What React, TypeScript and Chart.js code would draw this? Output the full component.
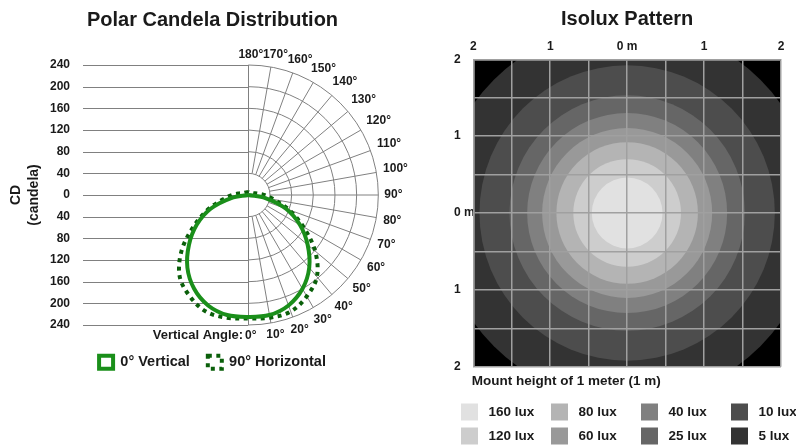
import React, { useEffect, useRef } from 'react';
import { Chart, registerables } from 'chart.js';

Chart.register(...registerables);

const FONT = "'Liberation Sans', Arial, Helvetica, sans-serif";
const TEXT = '#1a1a1a';
const GRID = '#808080';

// ---------- Polar candela distribution ----------
const ANGLES = [0, 10, 20, 30, 40, 50, 60, 70, 80, 90, 100, 110, 120, 130, 140, 150, 160, 170, 180];
const VERTICAL_0_CD = [225, 225, 217, 200, 175, 143, 110, 74, 32, 0, 0, 0, 0, 0, 0, 0, 0, 0, 0];
const HORIZONTAL_90_CD = [228, 230, 229, 216, 197, 161, 117, 80, 48, 30, 17, 10, 8, 7, 6, 6, 5, 5, 5];
const CD_TICKS = [40, 80, 120, 160, 200, 240];
const CD_MAX = 240;
const CD_STEP = 40;
const SERIES_LABELS = ['0° Vertical', '90° Horizontal'];

// ---------- Isolux pattern ----------
const LUX_LEVELS = ['160 lux', '120 lux', '80 lux', '60 lux', '40 lux', '25 lux', '10 lux', '5 lux'];
const LUX_RADII_M = [0.46, 0.7, 0.92, 1.105, 1.3, 1.53, 1.92, 2.45];
const LUX_COLORS = ['#e1e1e1', '#cdcdcd', '#b4b4b4', '#999999', '#808080', '#666666', '#4d4d4d', '#333333'];
const DIST_MAX_M = 2;
const DIST_GRID_STEP_M = 0.5;
const MOUNT_NOTE = 'Mount height of 1 meter (1 m)';

Chart.defaults.font.family = FONT;
Chart.defaults.font.weight = 'bold' as any;
Chart.defaults.color = TEXT;

function polarPoint(angleDeg: number, cd: number, side: number) {
  const t = (angleDeg * Math.PI) / 180;
  return { x: side * cd * Math.sin(t), y: -cd * Math.cos(t) };
}

function closedCurve(values: number[]) {
  const pts: { x: number; y: number }[] = [];
  for (let i = ANGLES.length - 1; i >= 0; i--) pts.push(polarPoint(ANGLES[i], values[i], -1));
  for (let i = 1; i < ANGLES.length; i++) pts.push(polarPoint(ANGLES[i], values[i], 1));
  return pts;
}

const polarGridPlugin = {
  id: 'polarGrid',
  beforeDatasetsDraw(chart: any) {
    const { ctx, chartArea, scales } = chart;
    const xs = scales.x;
    const ys = scales.y;
    const cx = xs.getPixelForValue(0);
    const cy = ys.getPixelForValue(0);
    const rp = (v: number) => xs.getPixelForValue(v) - cx;
    ctx.save();
    ctx.strokeStyle = GRID;
    ctx.lineWidth = 1;
    ctx.beginPath();
    ys.ticks.forEach((t: any) => {
      const py = Math.round(ys.getPixelForValue(t.value)) + 0.5;
      ctx.moveTo(chartArea.left, py);
      ctx.lineTo(cx, py);
    });
    const vx = Math.round(cx) + 0.5;
    ctx.moveTo(vx, ys.getPixelForValue(CD_MAX));
    ctx.lineTo(vx, ys.getPixelForValue(-CD_MAX));
    ctx.stroke();
    CD_TICKS.forEach((r) => {
      ctx.beginPath();
      ctx.arc(cx, cy, rp(r), -Math.PI / 2, Math.PI / 2);
      ctx.stroke();
    });
    const r0 = rp(CD_TICKS[0]);
    const r1 = rp(CD_MAX);
    ctx.beginPath();
    ANGLES.forEach((a) => {
      if (a <= 0 || a >= 180) return;
      const t = (a * Math.PI) / 180;
      const s = Math.sin(t);
      const c = Math.cos(t);
      ctx.moveTo(cx + r0 * s, cy + r0 * c);
      ctx.lineTo(cx + r1 * s, cy + r1 * c);
    });
    ctx.stroke();
    ctx.restore();
  },
  afterDraw(chart: any) {
    const { ctx, scales } = chart;
    const xs = scales.x;
    const ys = scales.y;
    const cx = xs.getPixelForValue(0);
    const cy = ys.getPixelForValue(0);
    const r1 = xs.getPixelForValue(CD_MAX) - cx;
    ctx.save();
    ctx.fillStyle = TEXT;
    ctx.textAlign = 'center';
    ctx.textBaseline = 'middle';
    ctx.font = `bold 12px ${FONT}`;
    ANGLES.forEach((a) => {
      const t = (a * Math.PI) / 180;
      const s = Math.sin(t);
      const c = Math.cos(t);
      const txt = `${a}°`;
      const w = ctx.measureText(txt).width;
      const rl = r1 + 6 + (Math.abs(s) * w) / 2 + Math.abs(c) * 4.5;
      const px = cx + rl * s + 2.5 * Math.abs(c);
      const py = cy + rl * c;
      ctx.fillText(txt, px, py);
      if (a === 0) {
        ctx.save();
        ctx.font = `bold 13px ${FONT}`;
        ctx.textAlign = 'right';
        ctx.fillText('Vertical Angle:', px - w / 2 - 2, py);
        ctx.restore();
      }
    });
    ctx.restore();
  },
};

const isoluxPlugin = {
  id: 'isoluxDecor',
  beforeDatasetsDraw(chart: any) {
    const { ctx, chartArea } = chart;
    ctx.save();
    ctx.fillStyle = '#000000';
    ctx.fillRect(chartArea.left, chartArea.top, chartArea.width, chartArea.height);
    ctx.restore();
  },
  afterDraw(chart: any) {
    const { ctx, chartArea } = chart;
    ctx.save();
    ctx.fillStyle = TEXT;
    ctx.textAlign = 'left';
    ctx.textBaseline = 'middle';
    ctx.font = `bold 13.5px ${FONT}`;
    ctx.fillText(MOUNT_NOTE, chartArea.left - 1.5, chartArea.bottom + 15);
    LUX_LEVELS.forEach((lbl, i) => {
      const col = Math.floor(i / 2);
      const row = i % 2;
      const x = chartArea.left - 12.3 + col * 90;
      const y = chartArea.bottom + 45.3 + row * 24;
      ctx.fillStyle = LUX_COLORS[i];
      ctx.fillRect(x, y - 8.5, 17, 17);
      ctx.fillStyle = TEXT;
      ctx.fillText(lbl, x + 27.5, y);
    });
    ctx.restore();
  },
};

function radiusPx(chart: any, meters: number) {
  const s = chart.scales && chart.scales.x;
  if (!s) return 0;
  const v = Math.abs(s.getPixelForValue(meters) - s.getPixelForValue(0));
  return isFinite(v) ? v : 0;
}

function distLabel(v: any) {
  const n = Number(v);
  if (Math.abs(n - Math.round(n)) > 1e-6) return '';
  if (Math.round(n) === 0) return '0 m';
  return String(Math.abs(Math.round(n)));
}

export default function App() {
  const leftRef = useRef<HTMLCanvasElement>(null);
  const rightRef = useRef<HTMLCanvasElement>(null);

  useEffect(() => {
    const polar = new Chart(leftRef.current as HTMLCanvasElement, {
      type: 'scatter',
      data: {
        datasets: [
          {
            label: SERIES_LABELS[0],
            data: closedCurve(VERTICAL_0_CD),
            showLine: true,
            borderColor: '#1a8f1a',
            backgroundColor: '#ffffff',
            borderWidth: 4,
            pointRadius: 0,
            tension: 0.35,
            fill: false,
          },
          {
            label: SERIES_LABELS[1],
            data: closedCurve(HORIZONTAL_90_CD),
            showLine: true,
            borderColor: '#0a5f0a',
            backgroundColor: '#ffffff',
            borderWidth: 4,
            borderDash: [4, 4.5],
            pointRadius: 0,
            tension: 0.35,
            fill: false,
          },
        ],
      } as any,
      options: {
        animation: false,
        responsive: false,
        events: [],
        layout: { autoPadding: false, padding: { left: 0, right: 0, top: 0, bottom: 65.5 } },
        plugins: {
          title: {
            display: true,
            text: 'Polar Candela Distribution',
            color: TEXT,
            font: { size: 20, weight: 'bold' },
            padding: { top: 8, bottom: 33 },
          },
          legend: {
            position: 'bottom',
            labels: {
              boxWidth: 14,
              boxHeight: 13,
              padding: 18,
              color: TEXT,
              font: { size: 14.5, weight: 'bold' },
            },
          },
          tooltip: { enabled: false },
        },
        scales: {
          x: {
            type: 'linear',
            min: -305.2,
            max: 326.2,
            grid: { display: false },
            border: { display: false },
            ticks: { display: false },
            afterFit: (s: any) => {
              s.height = 12;
            },
          },
          y: {
            type: 'linear',
            min: -CD_MAX,
            max: CD_MAX,
            grid: { display: false },
            border: { display: false },
            ticks: {
              stepSize: CD_STEP,
              padding: 5,
              color: TEXT,
              font: { size: 12, weight: 'bold' },
              callback: (v: any) => String(Math.abs(Number(v))),
            },
            title: {
              display: true,
              text: ['CD', '(candela)'],
              color: TEXT,
              font: { size: 14, weight: 'bold', lineHeight: 1.33 },
              padding: { top: 6.5, bottom: 0 },
            },
            afterFit: (s: any) => {
              s.width = 83;
            },
          },
        },
      } as any,
      plugins: [polarGridPlugin],
    });

    const iso = new Chart(rightRef.current as HTMLCanvasElement, {
      type: 'scatter',
      data: {
        datasets: LUX_LEVELS.map((label, i) => ({
          label,
          data: [{ x: 0, y: 0 }],
          pointRadius: (ctx: any) => radiusPx(ctx.chart, LUX_RADII_M[i]),
          pointHoverRadius: (ctx: any) => radiusPx(ctx.chart, LUX_RADII_M[i]),
          pointBackgroundColor: LUX_COLORS[i],
          backgroundColor: LUX_COLORS[i],
          pointBorderWidth: 0,
          borderWidth: 0,
          clip: 0,
        })),
      } as any,
      options: {
        animation: false,
        responsive: false,
        events: [],
        layout: { autoPadding: false, padding: { left: 29, right: 15, top: 0, bottom: 78.3 } },
        plugins: {
          title: {
            display: true,
            text: 'Isolux Pattern',
            fullSize: false,
            color: TEXT,
            font: { size: 20, weight: 'bold' },
            padding: { top: 7, bottom: 8.3 },
          },
          legend: { display: false },
          tooltip: { enabled: false },
        },
        scales: {
          x: {
            type: 'linear',
            position: 'top',
            min: -DIST_MAX_M,
            max: DIST_MAX_M,
            grid: { color: '#a0a0a0', lineWidth: 1.5, drawTicks: false, z: 1 },
            border: { color: '#a0a0a0', width: 1.5, z: 1 },
            ticks: {
              stepSize: DIST_GRID_STEP_M,
              autoSkip: false,
              maxRotation: 0,
              padding: 5,
              color: TEXT,
              font: { size: 12, weight: 'bold' },
              callback: distLabel,
            },
            afterFit: (s: any) => {
              s.height = 20;
            },
          },
          y: {
            type: 'linear',
            min: -DIST_MAX_M,
            max: DIST_MAX_M,
            grid: { color: '#a0a0a0', lineWidth: 1.5, drawTicks: false, z: 1 },
            border: { color: '#a0a0a0', width: 1.5, z: 1 },
            ticks: {
              stepSize: DIST_GRID_STEP_M,
              autoSkip: false,
              crossAlign: 'far',
              padding: 0,
              color: TEXT,
              font: { size: 12, weight: 'bold' },
              callback: distLabel,
            },
            afterFit: (s: any) => {
              s.width = 19.3;
            },
          },
        },
      } as any,
      plugins: [isoluxPlugin],
    });

    return () => {
      polar.destroy();
      iso.destroy();
    };
  }, []);

  return (
    <div style={{ position: 'absolute', left: 0, top: 0, width: 796, height: 445, background: '#ffffff', overflow: 'hidden' }}>
      <canvas ref={leftRef} width={425} height={445} style={{ position: 'absolute', left: 0, top: 0 }} />
      <canvas ref={rightRef} width={371} height={445} style={{ position: 'absolute', left: 425, top: 0 }} />
    </div>
  );
}
